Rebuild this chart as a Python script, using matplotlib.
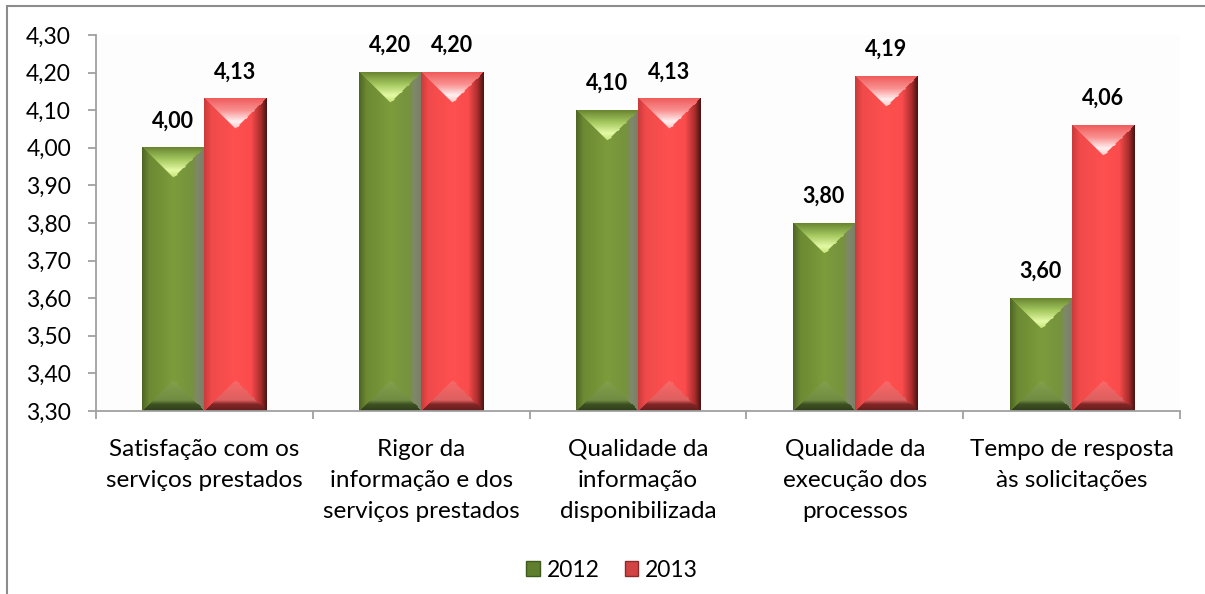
import numpy as np
import matplotlib
matplotlib.use("Agg")
from matplotlib import pyplot as plt
from matplotlib.patches import Patch, Rectangle

categories = [
    "Satisfação com os\nserviços prestados",
    "Rigor da\ninformação e dos\nserviços prestados",
    "Qualidade da\ninformação\ndisponibilizada",
    "Qualidade da\nexecução dos\nprocessos",
    "Tempo de resposta\nàs solicitações",
]
series_names = ["2012", "2013"]
values_2012 = [4.00, 4.20, 4.10, 3.80, 3.60]
values_2013 = [4.13, 4.20, 4.13, 4.19, 4.06]
y_ticks = [3.30, 3.40, 3.50, 3.60, 3.70, 3.80, 3.90, 4.00, 4.10, 4.20, 4.30]

# shading stops: (position, rgb) for horizontal body, top bevel, bottom bevel
GREEN = {
    "body": [(0.0, (78, 100, 36)), (0.12, (108, 138, 50)), (0.5, (124, 156, 60)),
             (0.8, (118, 146, 62)), (0.88, (128, 136, 108)), (1.0, (120, 126, 100))],
    "top": [(0.0, (104, 132, 48)), (0.4, (165, 200, 95)), (0.75, (228, 250, 165)), (1.0, (195, 225, 115))],
    "bottom": [(0.0, (45, 60, 25)), (0.22, (62, 82, 34)), (0.35, (112, 140, 66)), (1.0, (132, 162, 76))],
    "legend": "#5f7f2e",
}
RED = {
    "body": [(0.0, (200, 58, 58)), (0.12, (240, 74, 74)), (0.5, (255, 80, 80)),
             (0.75, (250, 76, 76)), (0.9, (170, 45, 45)), (1.0, (70, 18, 18))],
    "top": [(0.0, (240, 90, 90)), (0.4, (250, 145, 145)), (0.75, (255, 240, 240)), (1.0, (255, 195, 195))],
    "bottom": [(0.0, (100, 30, 30)), (0.22, (130, 38, 38)), (0.35, (222, 95, 95)), (1.0, (252, 105, 105))],
    "legend": "#d24444",
}


def interp_stops(t, stops):
    pos = [s[0] for s in stops]
    out = np.zeros(t.shape + (3,))
    for c in range(3):
        out[..., c] = np.interp(t, pos, [s[1][c] for s in stops])
    return out / 255.0


def bevel_image(w_px, h_px, scheme):
    w_px = max(int(round(w_px)), 2)
    h_px = max(int(round(h_px)), 2)
    u = (np.arange(w_px) + 0.5) / w_px
    img = np.tile(interp_stops(u, scheme["body"])[None, :, :], (h_px, 1, 1))
    v = (np.arange(h_px) + 0.5)[:, None] * np.ones((1, w_px))
    d = np.minimum(u * w_px, (1 - u) * w_px)[None, :] * np.ones((h_px, 1))
    half = w_px / 2.0
    top = (v < d) & (v <= h_px - v)
    bot = ((h_px - v) < d) & (v > h_px - v)
    tcol = interp_stops(v / half, scheme["top"])
    bcol = interp_stops((h_px - v) / half, scheme["bottom"])
    img[top] = tcol[top]
    img[bot] = bcol[bot]
    return img


plt.rcParams["font.family"] = ["Lato", "DejaVu Sans"]

fig = plt.figure(figsize=(12.05, 5.94), dpi=100)
fig.patch.set_facecolor("white")
ax = fig.add_axes([96 / 1205, 1 - 411 / 594, (1180 - 96) / 1205, (411 - 35) / 594])
ax.set_facecolor("#fdfdfd")

x = np.arange(len(categories))
width = 0.286
ymin, ymax = 3.30, 4.30
ax.set_xlim(-0.5, len(categories) - 0.5)
ax.set_ylim(ymin, ymax)

bars_a = ax.bar(x - width / 2, np.array(values_2012) - ymin, width, bottom=ymin, color="none", zorder=2)
bars_b = ax.bar(x + width / 2, np.array(values_2013) - ymin, width, bottom=ymin, color="none", zorder=2)

for bars, scheme in ((bars_a, GREEN), (bars_b, RED)):
    for b in bars:
        x0, y0 = b.get_x(), b.get_y()
        x1, y1 = x0 + b.get_width(), y0 + b.get_height()
        p0 = ax.transData.transform((x0, y0))
        p1 = ax.transData.transform((x1, y1))
        img = bevel_image(p1[0] - p0[0], p1[1] - p0[1], scheme)
        ax.imshow(img, extent=(x0, x1, y0, y1), aspect="auto", interpolation="bilinear", zorder=2)

for vals, offs in ((values_2012, -width / 2), (values_2013, width / 2)):
    for xi, v in zip(x, vals):
        ax.annotate(f"{v:.2f}".replace(".", ","), (xi + offs, v), xytext=(0, 19.5),
                    textcoords="offset points", ha="center", va="center",
                    fontsize=15.5, fontweight="bold", color="black")

ax.set_xlim(-0.5, len(categories) - 0.5)
ax.set_ylim(ymin, ymax)

axis_gray = "#a0a0a0"
for side in ("top", "right"):
    ax.spines[side].set_visible(False)
for side in ("left", "bottom"):
    ax.spines[side].set_color(axis_gray)
    ax.spines[side].set_linewidth(1.3)

ax.set_yticks(y_ticks)
ax.set_yticklabels([f"{t:.2f}".replace(".", ",") for t in y_ticks])
ax.tick_params(axis="y", length=6, width=1.3, color=axis_gray, labelsize=16.5, pad=12)

ax.set_xticks(np.arange(len(categories) + 1) - 0.5)
ax.set_xticklabels([])
ax.set_xticks(x, minor=True)
ax.set_xticklabels(categories, minor=True, fontsize=17.5, linespacing=1.6, va="top")
ax.tick_params(axis="x", which="major", length=6, width=1.3, color=axis_gray)
ax.tick_params(axis="x", which="minor", length=0, pad=20)

handles = [Patch(facecolor=GREEN["legend"], edgecolor="#3e5a1c"),
           Patch(facecolor=RED["legend"], edgecolor="#8a2a2a")]
fig.legend(handles, series_names, loc="center", bbox_to_anchor=(0.508, 0.04), ncol=2,
           frameon=False, fontsize=16.5, handlelength=0.6, handleheight=0.6,
           handletextpad=0.3, columnspacing=1.1)

# outer chart border (only top and left edges are visible in the frame)
fig.add_artist(Rectangle((7 / 1205, -0.2), 1.5, 1.2 - 6 / 594, transform=fig.transFigure,
                         fill=False, edgecolor="#8c8c8c", linewidth=1.5))

fig.savefig("out.png", dpi=100)
